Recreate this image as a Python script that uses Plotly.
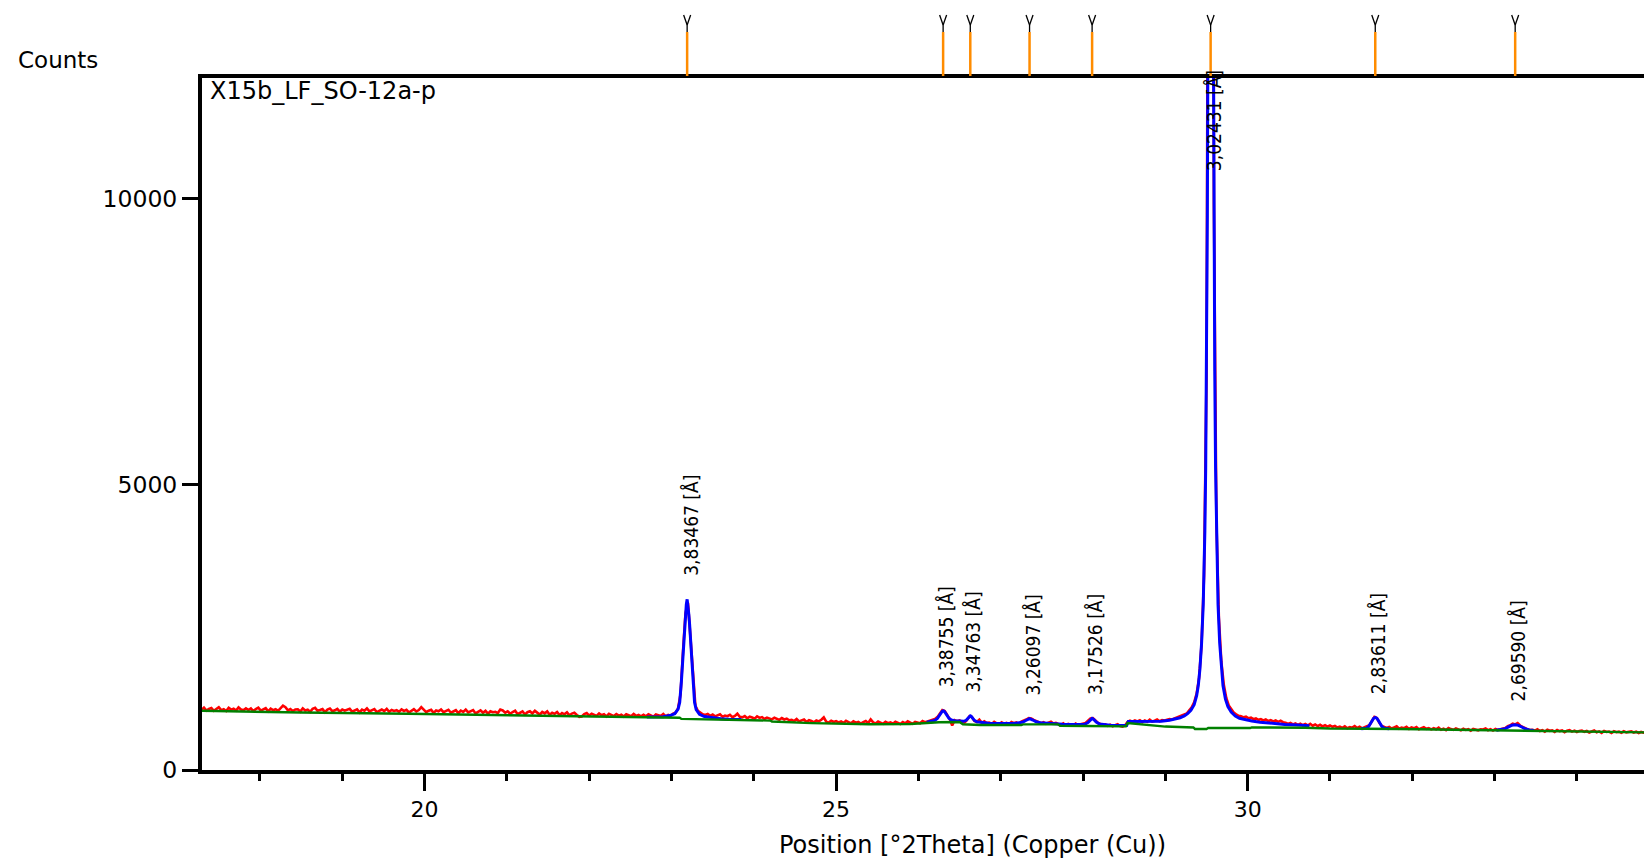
import plotly.graph_objects as go

# ---------------- data ----------------
# observed scan (red): start angle, step, counts
SCAN_START = 17.26
SCAN_STEP = 0.03
obs_counts = [
    1078, 1050, 1092, 1041, 1069, 1085, 1036, 1074, 1098, 1047, 1063, 1032, 1088, 1056, 1071, 1040, 1095, 1059, 1044, 1080,
    1049, 1076, 1031, 1067, 1090, 1038, 1058, 1083, 1027, 1072, 1046, 1064, 1035, 1081, 1125, 1100, 1043, 1066, 1029, 1058,
    1062, 1024, 1079, 1041, 1055, 1018, 1071, 1088, 1035, 1049, 1066, 1012, 1058, 1077, 1030, 1044, 1069, 1021, 1060, 1039,
    1052, 1071, 1020, 1045, 1063, 1008, 1057, 1036, 1078, 1026, 1048, 1065, 1014, 1040, 1059, 1031, 1070, 1019, 1050, 1034,
    1046, 1017, 1060, 1033, 1052, 1006, 1041, 1064, 1024, 1050, 1100, 1062, 1012, 1037, 1055, 999, 1043, 1028, 1058, 1011,
    1035, 1054, 1002, 1029, 1046, 994, 1040, 1017, 1058, 1008, 1031, 1049, 990, 1022, 1044, 1003, 1036, 985, 1027, 1012,
    1019, 996, 1058, 1042, 1003, 1026, 984, 1015, 1037, 979, 1008, 1024, 972, 1011, 1029, 990, 1035, 1004, 969, 1018,
    992, 1025, 968, 1001, 983, 1014, 960, 997, 975, 1009, 956, 988, 1003, 964, 930, 936, 978, 995, 952, 985,
    971, 948, 990, 957, 976, 938, 983, 962, 944, 979, 951, 969, 935, 974, 958, 941, 981, 947, 964, 939,
    968, 940, 976, 952, 934, 971, 958, 945, 980, 937, 962, 949, 985, 1002, 1080, 1330, 2075, 2745, 2925, 2330,
    1565, 1125, 1035, 1002, 975, 962, 981, 948, 970, 939, 958, 976, 930, 952, 941, 966, 925, 947, 985, 932,
    921, 945, 905, 933, 918, 897, 939, 912, 926, 893, 917, 901, 886, 915, 896, 878, 909, 884, 899, 871,
    877, 856, 893, 849, 868, 884, 841, 872, 858, 835, 866, 851, 880, 920, 846, 829, 862, 840, 855, 832,
    848, 823, 859, 836, 817, 851, 829, 842, 812, 838, 856, 821, 885, 834, 815, 849, 826, 808, 843, 820,
    834, 811, 845, 822, 806, 839, 817, 851, 826, 808, 842, 830, 818, 855, 836, 849, 860, 872, 892, 925,
    998, 1048, 1030, 955, 890, 780, 870, 852, 866, 841, 832, 878, 940, 926, 858, 842, 880, 826, 851, 820,
    829, 806, 842, 815, 798, 834, 811, 826, 801, 840, 818, 832, 808, 845, 858, 884, 910, 902, 876, 855,
    841, 818, 836, 809, 829, 846, 812, 824, 801, 789, 815, 783, 806, 794, 779, 812, 786, 801, 808, 822,
    862, 900, 908, 868, 826, 805, 781, 798, 772, 792, 766, 786, 801, 770, 760, 779, 840, 862, 845, 866,
    851, 872, 838, 866, 845, 880, 849, 862, 885, 853, 874, 866, 880, 891, 884, 902, 910, 925, 945, 972,
    990, 1045, 1095, 1185, 1335, 1615, 2205, 3405, 6900, 21800, 33000, 9900, 4360, 2665, 1895, 1490, 1262, 1130, 1070, 1005,
    975, 948, 940, 921, 933, 905, 915, 889, 902, 878, 890, 866, 883, 857, 872, 850, 868, 842, 861, 836,
    829, 805, 822, 797, 815, 790, 811, 783, 804, 779, 808, 774, 796, 768, 791, 763, 785, 759, 780, 756,
    771, 744, 760, 738, 765, 732, 752, 741, 770, 735, 757, 729, 748, 762, 785, 858, 930, 912, 826, 770,
    758, 734, 752, 726, 745, 763, 721, 740, 731, 755, 718, 743, 729, 750, 714, 737, 748, 720, 733, 711,
    731, 712, 740, 705, 724, 698, 735, 716, 702, 728, 709, 693, 722, 701, 715, 688, 719, 703, 695, 713,
    708, 726, 697, 715, 690, 720, 702, 712, 718, 735, 768, 781, 812, 796, 820, 778, 756, 728, 712, 699,
    704, 689, 712, 682, 698, 671, 706, 686, 694, 668, 700, 681, 692, 663, 688, 697, 672, 690, 666, 684,
    690, 668, 682, 655, 678, 692, 661, 676, 650, 684, 665, 673, 648, 680, 662, 671, 652, 677, 659, 668,
    675, 656, 670, 648, 666, 654, 661,
]

# calculated profile (blue), fitted segments
calc_theta_a = [22.70, 22.80, 22.90, 22.98, 23.04, 23.08, 23.10, 23.12, 23.14, 23.15, 23.16, 23.17, 23.18, 23.19,
                23.20, 23.21, 23.22, 23.23, 23.24, 23.26, 23.28, 23.30, 23.34, 23.40, 23.50, 23.60, 23.70, 23.85]
calc_counts_a = [926, 926, 934, 952, 985, 1065, 1187, 1547, 2067, 2317, 2547, 2727, 2897, 2987,
                 2897, 2727, 2547, 2317, 2067, 1545, 1185, 1058, 973, 935, 910, 898, 890, 883]

calc_theta_b = [26.10, 26.16, 26.20, 26.23, 26.25, 26.27, 26.29, 26.30, 26.31, 26.33, 26.35, 26.37, 26.40, 26.44,
                26.50, 26.55, 26.58, 26.60, 26.62, 26.63, 26.64, 26.66, 26.68, 26.71, 26.76, 26.85, 26.95, 27.05,
                27.15, 27.22, 27.27, 27.31, 27.35, 27.39, 27.43, 27.48, 27.55, 27.65, 27.75, 27.85, 27.95, 28.02,
                28.06, 28.09, 28.11, 28.13, 28.16, 28.20, 28.26, 28.33, 28.40, 28.50, 28.53, 28.55, 28.65, 28.75,
                28.85, 28.95, 29.05, 29.12, 29.18, 29.23, 29.27, 29.31, 29.35, 29.38, 29.40, 29.42, 29.44, 29.46,
                29.47, 29.48, 29.49, 29.50, 29.51, 29.52, 29.53, 29.54, 29.55, 29.56, 29.57, 29.58, 29.59, 29.60,
                29.61, 29.62, 29.63, 29.64, 29.66, 29.68, 29.70, 29.73, 29.76, 29.80, 29.85, 29.90, 29.95, 30.05,
                30.15, 30.30, 30.45, 30.60, 30.75]
calc_counts_b = [838, 850, 868, 900, 945, 995, 1030, 1035, 1030, 995, 945, 905, 875, 862,
                 858, 852, 870, 905, 940, 948, 940, 905, 868, 845, 832, 820, 815, 812,
                 815, 825, 840, 870, 900, 875, 845, 828, 818, 812, 800, 795, 793, 800,
                 830, 880, 903, 885, 840, 805, 790, 782, 780, 778, 780, 848, 850, 848,
                 850, 855, 872, 890, 915, 945, 985, 1045, 1142, 1300, 1478, 1768, 2218, 2898,
                 3428, 4188, 5288, 6978, 9708, 14308, 22178, 33628, 40738, 33628, 22178, 14308, 9708, 6978,
                 5288, 4188, 3428, 2898, 2218, 1768, 1478, 1240, 1110, 1015, 945, 905, 888, 858,
                 837, 812, 797, 787, 773]

calc_theta_c = [31.38, 31.44, 31.47, 31.49, 31.51, 31.53, 31.55, 31.57, 31.59, 31.61, 31.63, 31.66, 31.72]
calc_counts_c = [720, 730, 760, 805, 860, 905, 920, 905, 860, 805, 760, 730, 720]

calc_theta_d = [33.02, 33.08, 33.13, 33.17, 33.21, 33.25, 33.29, 33.33, 33.37, 33.42, 33.48]
calc_counts_d = [695, 704, 724, 754, 784, 793, 782, 752, 721, 700, 690]

# background (green)
bg_theta = [17.26, 18.5, 19.8, 21.0, 22.0, 22.7, 23.1, 23.12, 23.8, 24.2, 24.22, 24.7, 25.4, 25.9, 26.25,
            26.5, 26.54, 26.75, 27.25, 27.27, 27.7, 27.72, 28.05, 28.52, 28.54, 28.8, 29.0, 29.34, 29.36,
            29.5, 29.52, 30.03, 30.05, 30.7, 31.0, 31.84, 32.97, 34.49, 34.84]
bg_counts = [1037, 1005, 985, 955, 935, 921, 915, 895, 880, 865, 848, 820, 800, 805, 835,
             840, 800, 787, 787, 799, 799, 775, 770, 764, 822, 790, 760, 745, 718,
             718, 734, 734, 746, 740, 725, 717, 690, 660, 658]

# identified peaks
peak_theta = [23.19, 26.30, 26.63, 27.35, 28.11, 29.55, 31.55, 33.25]
peak_height = [2990, 1037, 950, 904, 904, 40738, 921, 792]
d_spacing = ["3,83467", "3,38755", "3,34763", "3,26097", "3,17526", "3,02431", "2,83611", "2,69590"]

X_RANGE = [17.296, 34.815]
Y_RANGE = [0, 12110]
x_major = 5
x_minor = 1
y_ticks = [0, 5000, 10000]

SAMPLE = "X15b_LF_SO-12a-p"
X_TITLE = "Position [°2Theta] (Copper (Cu))"
Y_TITLE = "Counts"

# ---------------- figure ----------------
W, H = 1644, 865
ML, MR, MT, MB = 202, 0, 78, 95
plot_w = W - ML - MR
plot_h = H - MT - MB

FONT = "DejaVu Sans"
FONT_C = "DejaVu Sans Condensed, DejaVu Sans"

obs_theta = [round(SCAN_START + SCAN_STEP * i, 2) for i in range(len(obs_counts))]
calc_theta = calc_theta_a + [None] + calc_theta_b + [None] + calc_theta_c + [None] + calc_theta_d
calc_counts = calc_counts_a + [None] + calc_counts_b + [None] + calc_counts_c + [None] + calc_counts_d

fig = go.Figure()
fig.add_trace(go.Scatter(x=obs_theta, y=obs_counts, mode="lines",
                         line=dict(color="#ff0000", width=2.6), hoverinfo="skip", showlegend=False))
fig.add_trace(go.Scatter(x=calc_theta, y=calc_counts, mode="lines", connectgaps=False,
                         line=dict(color="#0000ff", width=3), hoverinfo="skip", showlegend=False))
fig.add_trace(go.Scatter(x=bg_theta, y=bg_counts, mode="lines",
                         line=dict(color="#008000", width=2.4), hoverinfo="skip", showlegend=False))

shapes = []
annotations = []
for t, h, d in zip(peak_theta, peak_height, d_spacing):
    # reference marker above the frame
    shapes.append(dict(type="line", xref="x", yref="paper", xsizemode="pixel", xanchor=t,
                       ysizemode="pixel", yanchor=1, x0=0, x1=0, y0=2, y1=46,
                       line=dict(color="#ff8c00", width=2.5)))
    shapes.append(dict(type="line", xref="x", yref="paper", xsizemode="pixel", xanchor=t,
                       ysizemode="pixel", yanchor=1, x0=0, x1=0, y0=46, y1=53,
                       line=dict(color="black", width=1.3)))
    for dx in (-3.5, 3.5):
        shapes.append(dict(type="line", xref="x", yref="paper", xsizemode="pixel", xanchor=t,
                           ysizemode="pixel", yanchor=1, x0=0, x1=dx, y0=53, y1=63,
                           line=dict(color="black", width=1.3)))
    # d-spacing label
    if h < Y_RANGE[1]:
        annotations.append(dict(x=t, y=h, xref="x", yref="y", text=d + " [Å]", textangle=-90,
                                showarrow=False, xanchor="center", yanchor="bottom",
                                xshift=3, yshift=21, font=dict(family=FONT_C, size=19, color="black")))
    else:
        annotations.append(dict(x=t, y=Y_RANGE[1], xref="x", yref="y", text=d + " [Å]", textangle=-90,
                                showarrow=False, xanchor="center", yanchor="top",
                                xshift=3, yshift=10, font=dict(family=FONT_C, size=19, color="black")))

annotations.append(dict(x=(16 - ML) / plot_w, y=(H - MB - 60) / plot_h, xref="paper", yref="paper",
                        text=Y_TITLE, showarrow=False, xanchor="left", yanchor="middle",
                        font=dict(family=FONT, size=23, color="black")))
annotations.append(dict(x=(208 - ML) / plot_w, y=(H - MB - 91) / plot_h, xref="paper", yref="paper",
                        text=SAMPLE, showarrow=False, xanchor="left", yanchor="middle",
                        font=dict(family=FONT, size=24, color="black")))
annotations.append(dict(x=(972 - ML) / plot_w, y=(H - MB - 845) / plot_h, xref="paper", yref="paper",
                        text=X_TITLE, showarrow=False, xanchor="center", yanchor="middle",
                        font=dict(family=FONT, size=24, color="black")))

fig.update_layout(
    width=W, height=H, autosize=False,
    margin=dict(l=ML, r=MR, t=MT, b=MB, pad=0),
    paper_bgcolor="white", plot_bgcolor="white",
    shapes=shapes, annotations=annotations,
    xaxis=dict(range=X_RANGE, showgrid=False, zeroline=False,
               showline=True, linecolor="black", linewidth=4, mirror=True,
               ticks="outside", tickmode="linear", tick0=0, dtick=x_major,
               ticklen=17, tickwidth=2.5, tickcolor="black",
               tickfont=dict(family=FONT, size=22, color="black"),
               minor=dict(ticks="outside", dtick=x_minor, tick0=0, ticklen=7,
                          tickwidth=2.5, tickcolor="black", showgrid=False)),
    yaxis=dict(range=Y_RANGE, showgrid=False, zeroline=False,
               showline=True, linecolor="black", linewidth=4, mirror=False,
               ticks="outside", tickmode="array", tickvals=y_ticks,
               ticktext=[str(v) for v in y_ticks],
               ticklen=16, tickwidth=2.5, tickcolor="black",
               tickfont=dict(family=FONT, size=23.5, color="black")),
)

fig.write_html("out.html", config={"displayModeBar": False},
               post_script="document.body.style.margin='0';document.documentElement.style.overflow='hidden';")
